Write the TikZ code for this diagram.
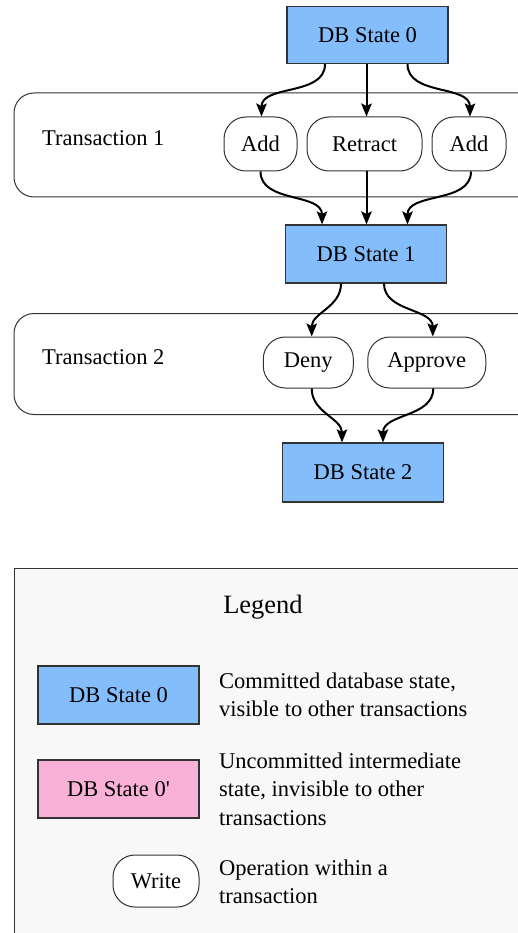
\documentclass[tikz,border=0pt]{standalone}
\usepackage{fontspec}
\setmainfont{Liberation Serif}
\usetikzlibrary{arrows.meta}
\definecolor{dbblue}{RGB}{132,189,251}
\definecolor{dbpink}{RGB}{249,177,216}
\definecolor{edgec}{RGB}{51,51,51}
\definecolor{legbg}{RGB}{248,248,248}
\begin{document}
\begin{tikzpicture}[x=1pt,y=-1pt,
  every node/.style={font=\fontsize{22.5}{28.5}\selectfont},
  state/.style={draw=edgec, line width=1.2pt, fill=dbblue, minimum width=161pt, minimum height=57pt, inner sep=0pt},
  pstate/.style={state, fill=dbpink},
  op/.style={draw=edgec, line width=1pt, fill=white, rounded corners=22pt, minimum height=53pt, inner sep=0pt},
  txbox/.style={draw=edgec, line width=1pt, rounded corners=20pt, fill=white, anchor=north west, inner sep=0pt, minimum width=540pt},
  lbl/.style={anchor=west, inner sep=0pt},
  desc/.style={anchor=base west, align=left, inner sep=0pt},
  arr/.style={-{Stealth[length=13pt,width=10.5pt,inset=2.5pt]}, line width=2pt, black}]
\useasboundingbox (0,0) rectangle (517,933);

% transaction boxes
\node[txbox, minimum height=104pt] (t1) at (13.5,92.5) {};
\node[txbox, minimum height=101pt] (t2) at (13.5,313) {};
\node[lbl] (t1l) at (42,138) {Transaction 1};
\node[lbl] (t2l) at (42,357) {Transaction 2};

% states
\node[state] (s0) at (367.5,35) {DB State 0};
\node[state, minimum height=58pt] (s1) at (366,254) {DB State 1};
\node[state, minimum height=59pt] (s2) at (363,472.5) {DB State 2};

% operations
\node[op, minimum width=73pt, minimum height=54pt] (add1) at (260.5,144) {Add};
\node[op, minimum width=115pt, minimum height=54pt] (retract) at (364.5,144) {Retract};
\node[op, minimum width=74pt, minimum height=54pt] (add2) at (469,144) {Add};
\node[op, minimum width=90pt, minimum height=51pt] (deny) at (308.3,362.5) {Deny};
\node[op, minimum width=118pt, minimum height=51pt] (approve) at (426.8,362.5) {Approve};

% arrows transaction 1
\draw[arr] ([xshift=-42.5pt]s0.south) to[out=-90,in=90] ([xshift=1pt]add1.north);
\draw[arr] ([xshift=2pt]s0.south -| retract.north) -- ([xshift=2pt]retract.north);
\draw[arr] ([xshift=40pt]s0.south) to[out=-90,in=90] ([xshift=1pt]add2.north);
\draw[arr] (add1.south) to[out=-90,in=90] ([xshift=-44pt]s1.north);
\draw[arr] ([xshift=2pt]retract.south) -- ([xshift=2pt]retract.south |- s1.north);
\draw[arr] ([xshift=2pt]add2.south) to[out=-90,in=90] ([xshift=41.5pt]s1.north);

% arrows transaction 2
\draw[arr] ([xshift=-25pt]s1.south) to[out=-90,in=90] ([xshift=3.4pt]deny.north);
\draw[arr] ([xshift=18pt]s1.south) to[out=-90,in=90] ([xshift=6pt]approve.north);
\draw[arr] ([xshift=3.4pt]deny.south) to[out=-90,in=90] ([xshift=-21pt]s2.north);
\draw[arr] ([xshift=6.5pt]approve.south) to[out=-90,in=90] ([xshift=20pt]s2.north);

% legend
\node[draw=edgec, line width=1.2pt, fill=legbg, anchor=north west, minimum width=540pt, minimum height=400pt, inner sep=0pt] (leg) at (13.5,568) {};
\node[inner sep=0pt, font=\fontsize{26.5}{32}\selectfont] (legt) at (263,607) {Legend};
\node[state, minimum height=58pt] (l0) at (118.5,695) {DB State 0};
\node[pstate, minimum height=58pt] (l1) at (118.5,789) {DB State 0\textquotesingle};
\node[op, minimum width=86pt, minimum height=52pt] (lw) at (156,881) {Write};
\node[desc] (d0) at (219,716.5) {Committed database state,\\visible to other transactions};
\node[desc] (d1) at (219,825) {Uncommitted intermediate\\state, invisible to other\\transactions};
\node[desc] (d2) at (219,903.5) {Operation within a\\transaction};
\end{tikzpicture}
\end{document}
